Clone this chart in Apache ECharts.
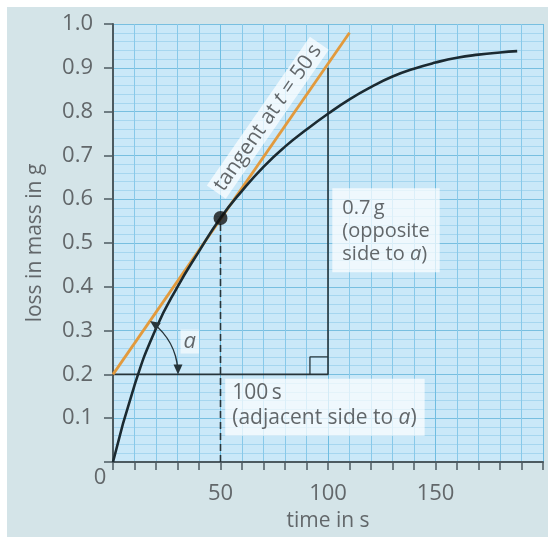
<!DOCTYPE html>
<html><head><meta charset="utf-8">
<script src="https://cdn.jsdelivr.net/npm/echarts@6/dist/echarts.min.js"></script>
<style>html,body{margin:0;padding:0;background:#fff}#c{position:absolute;left:7px;top:7px;width:541px;height:530px}</style>
</head><body><div id="c"></div>
<script>
// curve: loss in mass (g) vs time (s)
const time = [0, 10, 20, 30, 40, 50, 60, 70, 80, 90, 100, 110, 120, 130, 140, 150, 160, 170, 180, 188];
const mass = [0, 0.175, 0.305, 0.400, 0.481, 0.557, 0.619, 0.674, 0.720, 0.759, 0.795, 0.828, 0.856, 0.880, 0.898, 0.912, 0.923, 0.930, 0.935, 0.938];
// tangent at t = 50 s
const tangentTime = [0, 110];
const tangentMass = [0.2, 0.98];
// point of tangency
const pointTime = [50];
const pointMass = [0.557];
// right-angle triangle sides
const triTime = [0, 100, 100];
const triMass = [0.2, 0.2, 0.9];
// right-angle marker
const squareTime = [91.6, 91.6, 100];
const squareMass = [0.2, 0.24, 0.24];
// dashed drop line
const dashTime = [50, 50];
const dashMass = [0, 0.557];
// tick labels
const xTickLabels = [50, 100, 150];
const yTickLabels = ['0.1','0.2','0.3','0.4','0.5','0.6','0.7','0.8','0.9','1.0'];

const FONT = 'Open Sans';
const TXT = '#62676a';
const zip = (a, b) => a.map((v, i) => [v, b[i]]);

const chart = echarts.init(document.getElementById('c'));
chart.setOption({
  backgroundColor: '#d4e4e8',
  animation: false,
  grid: { left: 106, right: 5, top: 17, bottom: 70, show: true, backgroundColor: '#cae8f8', borderWidth: 0 },
  xAxis: {
    type: 'value', min: 0, max: 200, interval: 10,
    name: 'time in s', nameLocation: 'middle', nameGap: 49,
    nameTextStyle: { fontFamily: FONT, fontSize: 21, color: TXT },
    axisLine: { show: true, lineStyle: { color: '#4c5a60', width: 2 } },
    axisTick: { show: true, inside: false, length: 8, lineStyle: { color: '#4c5a60', width: 1.5 } },
    axisLabel: { margin: 21, fontFamily: FONT, fontSize: 22, color: TXT,
      formatter: v => xTickLabels.indexOf(v) >= 0 ? String(v) : '' },
    splitLine: { show: true, lineStyle: { color: ['#6fbde1', '#88c9e9', '#88c9e9', '#88c9e9', '#88c9e9'], width: 1 } }
  },
  yAxis: {
    type: 'value', min: 0, max: 1, interval: 0.1,
    name: 'loss in mass in g', nameLocation: 'middle', nameGap: 67, nameRotate: 90,
    nameTextStyle: { fontFamily: FONT, fontSize: 21, color: TXT },
    axisLine: { show: true, lineStyle: { color: '#4c5a60', width: 2 } },
    axisTick: { show: true, inside: false, length: 9, lineStyle: { color: '#4c5a60', width: 1.5 } },
    axisLabel: { margin: 20, fontFamily: FONT, fontSize: 22, color: TXT,
      formatter: v => { const s = v.toFixed(1); return yTickLabels.indexOf(s) >= 0 ? s : ''; } },
    splitLine: { show: true, lineStyle: { color: '#78bfe0', width: 1.2 } },
    minorTick: { show: false, splitNumber: 5 },
    minorSplitLine: { show: true, lineStyle: { color: '#a6d6ef', width: 1 } }
  },
  series: [
    { type: 'line', data: zip(triTime, triMass), symbol: 'none', lineStyle: { color: '#26343a', width: 1.6 }, z: 3 },
    { type: 'line', data: zip(squareTime, squareMass), symbol: 'none', lineStyle: { color: '#26343a', width: 1.3 }, z: 3 },
    { type: 'line', data: zip(dashTime, dashMass), symbol: 'none', lineStyle: { color: '#26343a', width: 1.6, type: [7, 4] }, z: 3 },
    { type: 'line', data: zip(tangentTime, tangentMass), symbol: 'none', lineStyle: { color: '#e29a3d', width: 2.8 }, z: 4 },
    { type: 'line', data: zip(time, mass), symbol: 'none', smooth: 0.5, lineStyle: { color: '#1b2a31', width: 2.6 }, z: 5 },
    { type: 'scatter', data: zip(pointTime, pointMass), symbol: 'circle', symbolSize: 14, itemStyle: { color: '#111' }, z: 6 }
  ]
});

function px(t, m) { return chart.convertToPixel({ gridIndex: 0 }, [t, m]); }
const p0 = px(tangentTime[0], tangentMass[0]);
const p1 = px(tangentTime[1], tangentMass[1]);
const ang = Math.atan2(p0[1] - p1[1], p1[0] - p0[0]); // radians above horizontal
const origin = px(0, 0);
const lab = px(72, 0.786);
const aPos = px(35.7, 0.275);
const oppBox = px(102, 0.625);
const adjBox = px(52.2, 0.19);
const r = 65;
const cx = p0[0], cy = p0[1];
const sA = -ang, eA = 0;
const sP = [cx + r * Math.cos(sA), cy + r * Math.sin(sA)];
const eP = [cx + r * Math.cos(eA), cy + r * Math.sin(eA)];
const dS = [Math.sin(sA), -Math.cos(sA)];
const nS = [-dS[1], dS[0]];
const head = (tip, d, n) => [tip, [tip[0] - d[0] * 10 + n[0] * 4.5, tip[1] - d[1] * 10 + n[1] * 4.5], [tip[0] - d[0] * 10 - n[0] * 4.5, tip[1] - d[1] * 10 - n[1] * 4.5]];
const dE = [-Math.sin(eA), Math.cos(eA)];
const nE = [-dE[1], dE[0]];

chart.setOption({
  graphic: [
    { type: 'arc', shape: { cx, cy, r, startAngle: sA + 0.06, endAngle: eA - 0.08, clockwise: true }, style: { stroke: '#26343a', lineWidth: 1.5, fill: null }, z: 10 },
    { type: 'polygon', shape: { points: head(sP, dS, nS) }, style: { fill: '#26343a' }, z: 10 },
    { type: 'polygon', shape: { points: head(eP, dE, nE) }, style: { fill: '#26343a' }, z: 10 },
    { type: 'text', x: aPos[0], y: aPos[1], z: 10, style: { text: 'a', fontFamily: FONT, fontStyle: 'italic', fontSize: 22, fill: TXT, align: 'center', verticalAlign: 'middle', backgroundColor: 'rgba(255,255,255,0.6)', padding: [0, 3, 2, 3] } },
    { type: 'text', x: lab[0], y: lab[1], rotation: ang, z: 10, style: {
        text: 'tangent at {i|t} = 50\u2009s', fontFamily: FONT, fontSize: 21, fill: TXT,
        rich: { i: { fontFamily: FONT, fontSize: 21, fontStyle: 'italic', fill: TXT } },
        align: 'center', verticalAlign: 'middle', backgroundColor: 'rgba(255,255,255,0.7)', padding: [1, 4, 1, 4] } },
    { type: 'text', x: oppBox[0], y: oppBox[1], z: 10, style: {
        text: '0.7\u2009g\n(opposite\nside to {i|a})', fontFamily: FONT, fontSize: 20, lineHeight: 23, fill: TXT,
        rich: { i: { fontFamily: FONT, fontSize: 20, lineHeight: 23, fontStyle: 'italic', fill: TXT } },
        align: 'left', verticalAlign: 'top', backgroundColor: 'rgba(255,255,255,0.7)', padding: [9, 10, 6, 10] } },
    { type: 'text', x: adjBox[0], y: adjBox[1], z: 10, style: {
        text: '100\u2009s\n(adjacent side to {i|a})', fontFamily: FONT, fontSize: 21, lineHeight: 25, fill: TXT,
        rich: { i: { fontFamily: FONT, fontSize: 21, lineHeight: 25, fontStyle: 'italic', fill: TXT } },
        align: 'left', verticalAlign: 'top', backgroundColor: 'rgba(255,255,255,0.7)', padding: [2, 8, 5, 7] } },
    { type: 'text', x: origin[0] - 13, y: origin[1] + 16, z: 10, style: { text: '0', fontFamily: FONT, fontSize: 22, fill: TXT, align: 'center', verticalAlign: 'middle' } }
  ]
});
</script></body></html>
